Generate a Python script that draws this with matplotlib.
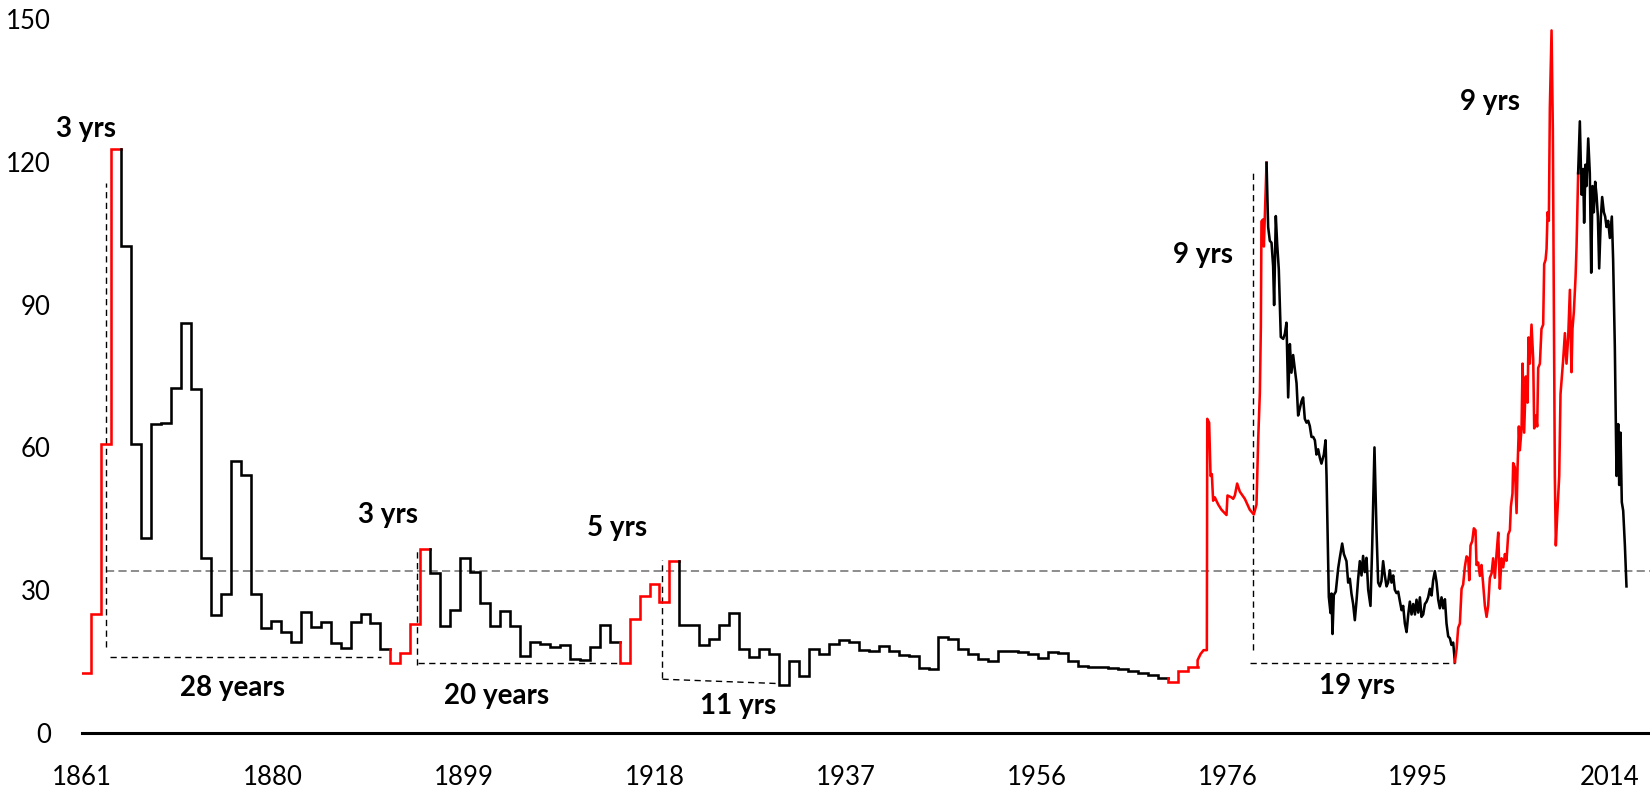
import matplotlib
matplotlib.use("Agg")
import matplotlib.pyplot as plt
import numpy as np

plt.rcParams['font.family'] = ['Lato', 'DejaVu Sans']

# ---------------- data ----------------
annual_years = list(range(1861, 1973))
annual_vals = [
    12.7, 25.0, 60.8, 122.6, 102.3, 60.8, 41.0, 64.9, 65.1, 72.5,   # 1861-1870
    86.1, 72.3, 36.8, 24.7, 29.2, 57.1, 54.2, 29.3, 22.1, 23.5,     # 1871-1880
    21.3, 19.2, 25.5, 22.3, 23.4, 18.9, 17.8, 23.4, 25.0, 23.1,     # 1881-1890
    17.6, 14.8, 16.8, 23.0, 38.7, 33.6, 22.4, 25.9, 36.7, 33.8,     # 1891-1900
    27.4, 22.5, 25.7, 22.5, 16.2, 19.2, 18.8, 18.1, 18.4, 15.5,     # 1901-1910
    15.4, 18.0, 22.6, 19.1, 14.8, 23.9, 28.7, 31.3, 27.5, 36.2,     # 1911-1920
    22.7, 22.6, 18.4, 19.8, 22.6, 25.3, 17.7, 16.0, 17.6, 16.7,     # 1921-1930
    10.0, 15.2, 12.0, 17.6, 16.6, 18.7, 19.5, 19.2, 17.4, 17.2,     # 1931-1940
    18.3, 17.3, 16.4, 16.2, 13.7, 13.5, 20.2, 19.7, 17.6, 16.7,     # 1941-1950
    15.5, 15.1, 17.2, 17.2, 17.1, 16.7, 15.8, 17.1, 16.9, 15.1,     # 1951-1960
    14.1, 13.9, 13.8, 13.6, 13.4, 13.1, 12.7, 12.2, 11.6, 10.8,     # 1961-1970
    13.0, 13.9,                                                     # 1971-1972
]

modern_years = [
    1973.00, 1973.30, 1973.60, 1973.93, 1973.97, 1974.16, 1974.30, 1974.43, 1974.56, 1974.73,
    1975.07, 1975.40, 1975.90, 1976.00, 1976.40, 1976.57, 1976.74, 1976.97, 1977.24, 1977.74,
    1978.24, 1978.64, 1978.91, 1979.08, 1979.25, 1979.35, 1979.41, 1979.58, 1979.65, 1979.75,
    1979.92, 1980.08, 1980.25, 1980.42, 1980.58, 1980.68, 1980.85, 1980.99, 1981.15, 1981.35,
    1981.59, 1981.76, 1981.92, 1982.09, 1982.26, 1982.42, 1982.59, 1982.76, 1982.93, 1983.09,
    1983.26, 1983.43, 1983.59, 1983.76, 1983.93, 1984.10, 1984.26, 1984.43, 1984.60, 1984.77,
    1984.93, 1985.10, 1985.27, 1985.43, 1985.67, 1985.84, 1985.94, 1986.04, 1986.17, 1986.34,
    1986.44, 1986.54, 1986.67, 1986.87, 1987.11, 1987.27, 1987.51, 1987.68, 1987.94, 1988.11,
    1988.28, 1988.44, 1988.61, 1988.78, 1988.95, 1989.11, 1989.28, 1989.45, 1989.61, 1989.78,
    1989.95, 1990.12, 1990.35, 1990.52, 1990.75, 1990.95, 1991.12, 1991.29, 1991.45, 1991.62,
    1991.79, 1991.96, 1992.12, 1992.29, 1992.46, 1992.63, 1992.79, 1992.96, 1993.13, 1993.29,
    1993.47, 1993.63, 1993.80, 1993.97, 1994.14, 1994.30, 1994.47, 1994.64, 1994.81, 1994.97,
    1995.14, 1995.31, 1995.47, 1995.64, 1995.81, 1995.98, 1996.14, 1996.31, 1996.48, 1996.64,
    1996.81, 1996.98, 1997.15, 1997.31, 1997.48, 1997.65, 1997.82, 1997.98, 1998.15, 1998.32,
    1998.48, 1998.65, 1998.82, 1998.99, 1999.15, 1999.32, 1999.49, 1999.65, 1999.82, 1999.99,
    2000.16, 2000.26, 2000.39, 2000.56, 2000.72, 2000.89, 2000.99, 2001.16, 2001.33, 2001.49,
    2001.66, 2001.83, 2002.00, 2002.16, 2002.33, 2002.50, 2002.66, 2002.83, 2003.00, 2003.17,
    2003.33, 2003.50, 2003.67, 2003.84, 2004.00, 2004.17, 2004.34, 2004.44, 2004.60, 2004.67,
    2004.84, 2005.01, 2005.11, 2005.24, 2005.34, 2005.51, 2005.61, 2005.77, 2005.94, 2006.11,
    2006.21, 2006.34, 2006.51, 2006.68, 2006.78, 2006.95, 2007.08, 2007.18, 2007.35, 2007.51,
    2007.68, 2007.78, 2007.92, 2008.02, 2008.12, 2008.25, 2008.35, 2008.52, 2008.65, 2008.75,
    2008.85, 2008.95, 2009.09, 2009.29, 2009.42, 2009.59, 2009.69, 2009.86, 2010.02, 2010.19,
    2010.36, 2010.52, 2010.62, 2010.76, 2010.93, 2011.03, 2011.19, 2011.36, 2011.53, 2011.69,
    2011.79, 2011.93, 2012.03, 2012.20, 2012.36, 2012.50, 2012.63, 2012.76, 2012.90, 2013.03,
    2013.17, 2013.30, 2013.47, 2013.60, 2013.77, 2013.90, 2014.04, 2014.20, 2014.37, 2014.57,
    2014.70, 2014.87, 2015.04, 2015.21, 2015.31, 2015.44, 2015.57, 2015.71, 2015.88, 2016.04,
]
modern_vals = [
    15.3, 16.6, 17.4, 17.4, 66.0, 65.2, 54.0, 54.4, 48.8, 49.5,
    48.0, 46.9, 45.8, 49.9, 49.5, 49.2, 49.9, 52.4, 50.7, 49.2,
    46.9, 45.9, 48.0, 61.5, 71.6, 85.4, 107.5, 107.9, 102.2, 108.6,
    119.8, 106.3, 103.4, 103.0, 98.1, 89.9, 108.6, 102.6, 97.4, 83.2,
    82.8, 83.9, 86.2, 70.5, 81.7, 75.7, 79.4, 76.4, 73.5, 66.7,
    68.2, 69.7, 70.5, 66.0, 65.2, 65.6, 64.5, 62.2, 62.2, 61.5,
    58.5, 59.6, 57.8, 56.6, 58.5, 61.5, 54.0, 42.8, 28.6, 25.2,
    29.3, 20.8, 29.0, 29.7, 34.6, 36.8, 39.8, 37.6, 36.1, 31.6,
    32.4, 29.3, 27.1, 23.7, 27.8, 32.3, 36.1, 33.1, 37.2, 33.8,
    36.8, 30.1, 26.7, 39.1, 60.0, 42.8, 31.6, 30.8, 31.9, 36.1,
    33.1, 30.8, 31.6, 34.2, 31.6, 33.1, 30.1, 29.4, 29.7, 27.8,
    25.8, 26.7, 23.0, 21.2, 24.9, 27.6, 24.9, 27.1, 24.9, 28.0,
    25.3, 28.5, 24.4, 24.9, 27.1, 27.6, 28.5, 30.3, 28.9, 32.1,
    34.0, 31.7, 28.0, 26.2, 28.5, 26.2, 28.1, 23.0, 20.3, 19.9,
    18.5, 19.0, 14.9, 17.6, 22.1, 23.0, 30.3, 31.2, 34.9, 37.1,
    36.7, 32.1, 39.4, 40.3, 43.0, 42.6, 35.3, 35.8, 33.0, 35.3,
    31.2, 26.7, 24.4, 26.7, 32.6, 33.5, 36.7, 32.6, 37.6, 42.1,
    30.3, 36.7, 34.8, 37.6, 36.2, 41.7, 42.6, 47.6, 50.3, 56.7,
    55.8, 46.2, 55.8, 64.4, 59.4, 64.0, 77.6, 63.1, 74.9, 69.4,
    83.1, 77.6, 85.8, 78.5, 64.0, 66.7, 64.4, 76.7, 77.6, 84.9,
    85.8, 98.5, 99.4, 101.7, 109.4, 107.6, 131.3, 147.6, 126.7, 90.3,
    54.0, 39.4, 45.8, 54.0, 71.2, 75.8, 78.5, 84.0, 77.6, 83.1,
    93.1, 75.8, 84.9, 88.5, 95.8, 102.2, 117.6, 128.5, 113.1, 118.5,
    107.2, 119.4, 114.9, 124.9, 117.6, 96.7, 114.9, 109.4, 115.8, 113.1,
    108.5, 97.6, 108.5, 112.6, 109.4, 108.5, 106.3, 107.6, 104.0, 108.5,
    99.4, 81.2, 54.0, 64.9, 52.1, 63.1, 48.5, 46.7, 39.4, 30.8,
]

# rising periods drawn in red
red_periods = [(1861, 1864), (1892, 1895), (1915, 1920), (1970, 1979.92), (1998.9, 2011.19)]

tick_labels = ["1861", "1880", "1899", "1918", "1937", "1956", "1976", "1995", "2014"]
y_ticks = [0, 30, 60, 90, 120, 150]
avg_level = 34.0

# ---------------- figure ----------------
W, H = 1650, 792
fig = plt.figure(figsize=(W / 100, H / 100), dpi=100)
ax = fig.add_axes([81.5 / W, 59 / H, (W - 81.5) / W, (733 - 19) / H])

RED = "#ff0000"
BLACK = "#000000"
LW = 1.85


def is_red(x):
    return any(a <= x <= b for a, b in red_periods)


def runs(flags):
    out, start = [], 0
    for i in range(1, len(flags) + 1):
        if i == len(flags) or flags[i] != flags[start]:
            out.append((start, i - 1, flags[start]))
            start = i
    return out


# annual step part
a_flags = [is_red(y) for y in annual_years]
for i, j, red in runs(a_flags):
    xs = [annual_years[i]] + annual_years[i:j + 1] + [annual_years[j] + 1]
    prev = annual_vals[i - 1] if i > 0 else annual_vals[i]
    ys = [prev] + annual_vals[i:j + 1] + [annual_vals[j]]
    ax.plot(xs, ys, drawstyle="steps-post", color=RED if red else BLACK,
            lw=LW, solid_joinstyle="miter", zorder=3)

# monthly part
m_flags = [is_red(y) for y in modern_years]
for i, j, red in runs(m_flags):
    if i > 0:
        xs = modern_years[i - 1:j + 1]
        ys = modern_vals[i - 1:j + 1]
    else:
        xs = [annual_years[-1] + 1] + modern_years[:j + 1]
        ys = [annual_vals[-1]] + modern_vals[:j + 1]
    ax.plot(xs, ys, color=RED if red else BLACK, lw=LW, zorder=3)

# long-run average line
ax.plot([1863.43, 2018.4], [avg_level, avg_level], color="#8c8c8c", lw=1.4,
        linestyle=(0, (4.2, 2.2)), zorder=2)

# annotation guide lines
dash = dict(color="black", lw=1.0, linestyle=(0, (4.5, 3.2)), zorder=2)
ax.plot([1863.43, 1863.43], [18.1, 115.5], **dash)
ax.plot([1863.86, 1891.1], [16.0, 16.0], **dash)
ax.plot([1894.7, 1894.7], [14.3, 38.9], **dash)
ax.plot([1894.8, 1915.0], [14.8, 14.8], **dash)
ax.plot([1919.3, 1919.3], [11.5, 36.3], **dash)
ax.plot([1919.3, 1930.75], [11.3, 10.4], **dash)
ax.plot([1978.58, 1978.58], [17.4, 118.3], **dash)
ax.plot([1978.24, 1998.82], [14.7, 14.7], **dash)

# annotation texts
txt = dict(fontsize=20, fontweight="bold", ha="center", va="center", color="black")
ax.text(1861.45, 126.8, "3 yrs", **txt)
ax.text(1876.2, 9.5, "28 years", **txt)
ax.text(1891.8, 45.8, "3 yrs", **txt)
ax.text(1902.7, 7.8, "20 years", **txt)
ax.text(1914.7, 43.0, "5 yrs", **txt)
ax.text(1926.9, 5.7, "11 yrs", **txt)
ax.text(1973.5, 100.4, "9 yrs", **txt)
ax.text(1989.0, 9.9, "19 yrs", **txt)
ax.text(2002.3, 132.6, "9 yrs", **txt)

# axes styling
ax.set_xlim(1861, 2018.4)
ax.set_ylim(0, 150)
tick_pos = [1861 + k * 7000 / 365.25 for k in range(len(tick_labels))]
ax.set_xticks(tick_pos)
ax.set_xticklabels(tick_labels)
ax.set_yticks(y_ticks)
ax.set_yticklabels([str(v) for v in y_ticks])
ax.tick_params(axis="x", length=0, pad=23, labelsize=18.5)
ax.tick_params(axis="y", length=0, pad=22, labelsize=18.5)
for s in ["top", "right", "left"]:
    ax.spines[s].set_visible(False)
ax.spines["bottom"].set_linewidth(2.2)
ax.spines["bottom"].set_color("black")
ax.set_facecolor("white")
fig.patch.set_facecolor("white")

fig.savefig("out.png", dpi=100, facecolor="white")
